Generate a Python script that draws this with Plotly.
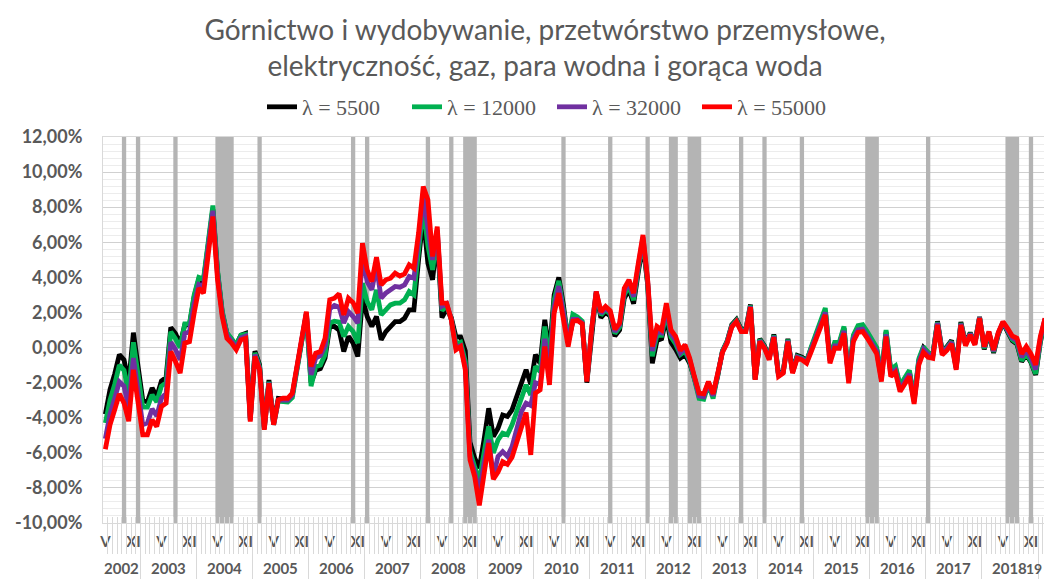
import plotly.graph_objects as go

# ---------------- data ----------------
start_year, start_month = 2002, 5   # first month: May 2002

lam_55000 = [
    -5.8, -4.4, -3.55, -2.64, -3.17, -4.2, -1.27, -2.98,
    -4.97, -4.97, -4.12, -4.5, -3.36, -3.17, -0.23, -0.8, -1.46, 0.25, 0.34, 1.96,
    3.38, 3.1, 5.2, 7.47, 3.86, 1.77, 0.53, 0.25, -0.13, 0.44, 0.53, -4.22,
    -0.51, -1.27, -4.69, -2.03, -4.4, -2.98, -2.89, -2.89, -2.6, -1.08, 0.82, 2.05,
    -1.08, -0.32, -0.23, 0.53, 2.72, 2.81, 3.06, 1.86, 2.81, 2.56, 1.96, 5.95,
    4.43, 3.76, 5.15, 3.57, 3.86, 3.95, 4.24, 4.08, 4.2, 4.71, 4.52, 6.52,
    9.18, 8.42, 5.19, 6.89, 2.53, 2.53, 1.58, -0.13, 0.06, -1.27, -6.4, -7.35,
    -9.0, -6.97, -5.45, -7.5, -7.1, -6.5, -6.65, -6.25, -5.45, -4.5, -3.7, -6.12,
    -2.6, -2.41, 0.06, -2.13, 1.96, 3.1, 1.58, 0.06, 1.5, 1.54, 1.35, -1.94,
    1.0, 3.19, 2.05, 2.34, 2.09, 1.04, 1.39, 3.38, 3.86, 3.1, 4.8, 6.42,
    3.86, 0.06, 1.2, 1.0, 2.53, 1.0, 0.63, -0.17, 0.15, -0.61, -1.65, -2.6,
    -2.64, -1.94, -2.64, -1.56, -0.28, 0.25, 1.16, 1.48, 0.91, 0.91, 2.3, -1.84,
    0.34, -0.04, -0.7, 0.59, -1.65, -1.46, 0.34, -1.46, -0.61, -0.7, -0.89, -0.23,
    0.48, 1.2, 1.86, -0.89, -0.04, -0.04, 0.82, -2.03, 0.34, 0.86, 0.91, 0.53,
    0.1, -0.36, -1.94, 0.63, -1.65, -1.42, -2.51, -2.07, -1.65, -3.21, -0.99, -0.28,
    -0.55, -0.61, 1.29, -0.42, -0.17, 0.21, -1.27, 1.29, 0.1, 0.72, 0.15, 1.67,
    0.06, 0.91, -0.13, 0.86, 1.48, 1.1, 0.66, 0.53, -0.36, 0.06, -0.36, -0.99,
    0.63, 1.67,
]

lam_5500 = [
    -3.8, -2.4, -1.5, -0.4, -0.7, -2.0, 0.85, -0.9,
    -3.0, -3.1, -2.3, -2.8, -1.9, -1.7, 1.15, 0.8, 0.2, 1.3, 1.3, 2.9,
    3.9, 3.8, 5.7, 7.9, 4.3, 2.0, 0.8, 0.45, 0.15, 0.7, 0.8, -4.0,
    -0.2, -1.0, -4.5, -1.85, -4.3, -2.9, -2.95, -2.95, -2.7, -1.2, 0.65, 1.9,
    -2.0, -1.3, -1.2, -0.6, 1.2, 1.2, 1.0, -0.23, 0.63, 0.25, -0.51, 2.81,
    1.77, 1.2, 1.77, 0.44, 0.91, 1.2, 1.48, 1.48, 1.67, 2.15, 2.15, 5.0,
    7.47, 4.8, 3.86, 6.3, 1.7, 2.2, 1.7, 0.6, 0.6, -0.2, -5.4, -6.3,
    -6.87, -5.26, -3.46, -5.07, -4.6, -3.84, -3.93, -3.55, -2.79, -2.03, -1.27, -2.1,
    -0.4, -0.9, 1.58, -0.3, 3.0, 4.0, 2.4, 0.3, 1.5, 1.6, 1.4, -2.0,
    0.9, 3.1, 1.7, 2.0, 1.8, 0.65, 1.0, 2.8, 3.3, 2.5, 4.3, 5.9,
    3.6, -0.9, 0.4, 0.5, 1.7, 0.3, -0.1, -0.6, -0.4, -0.9, -1.75, -2.7,
    -2.75, -2.0, -2.7, -1.6, -0.2, 0.35, 1.3, 1.6, 1.05, 1.05, 2.45, -1.8,
    0.5, 0.1, -0.55, 0.75, -1.55, -1.35, 0.5, -1.35, -0.45, -0.55, -0.75, -0.05,
    0.7, 1.45, 2.1, -0.65, 0.2, 0.2, 1.1, -1.8, 0.6, 1.15, 1.2, 0.8,
    0.35, -0.1, -1.7, 0.9, -1.35, -1.15, -2.25, -1.8, -1.4, -3.0, -0.75, 0.0,
    -0.3, -0.4, 1.5, -0.2, 0.05, 0.4, -1.1, 1.45, 0.25, 0.85, 0.25, 1.75,
    -0.1, 0.8, -0.3, 0.75, 1.4, 0.9, 0.4, 0.2, -0.8, -0.4, -0.85, -1.56,
    0.3, 1.55,
]

lam_12000 = [
    -4.3, -3.0, -2.1, -1.0, -1.3, -2.6, 0.3, -1.5,
    -3.4, -3.4, -2.7, -3.1, -2.2, -2.0, 0.9, 0.5, 0.0, 1.35, 1.35, 3.0,
    4.0, 3.9, 5.8, 8.1, 4.4, 2.1, 0.85, 0.5, 0.15, 0.7, 0.75, -4.1,
    -0.3, -1.1, -4.6, -1.95, -4.4, -3.05, -3.1, -3.1, -2.85, -1.3, 0.6, 1.9,
    -2.2, -1.1, -1.0, -0.4, 1.4, 1.5, 1.45, 0.63, 1.2, 0.91, 0.25, 3.67,
    2.62, 2.15, 3.29, 1.86, 2.15, 2.43, 2.53, 2.53, 2.72, 3.19, 3.0, 5.57,
    8.03, 5.8, 4.43, 6.5, 2.1, 2.4, 1.6, 0.2, 0.3, -0.8, -5.9, -6.8,
    -7.6, -6.0, -4.5, -6.0, -5.26, -4.88, -4.97, -4.4, -3.65, -2.89, -2.13, -2.7,
    -1.08, -1.37, 1.2, -0.8, 2.7, 3.8, 2.3, 0.5, 1.9, 1.75, 1.5, -1.9,
    0.95, 3.15, 1.85, 2.15, 1.9, 0.8, 1.15, 3.0, 3.5, 2.7, 4.5, 6.1,
    3.7, -0.5, 0.7, 0.7, 2.0, 0.6, 0.2, -0.4, -0.2, -0.8, -1.8, -2.9,
    -2.95, -2.1, -2.9, -1.7, -0.2, 0.35, 1.25, 1.55, 1.0, 1.0, 2.4, -1.8,
    0.45, 0.05, -0.6, 0.7, -1.6, -1.4, 0.45, -1.4, -0.5, -0.6, -0.8, 0.05,
    0.8, 1.6, 2.25, -0.55, 0.3, 0.3, 1.2, -1.7, 0.7, 1.25, 1.3, 0.9,
    0.45, 0.0, -1.6, 1.0, -1.25, -1.05, -2.15, -1.7, -1.3, -2.9, -0.65, 0.05,
    -0.3, -0.4, 1.45, -0.25, 0.0, 0.35, -1.15, 1.4, 0.2, 0.8, 0.25, 1.72,
    -0.05, 0.85, -0.25, 0.8, 1.42, 0.95, 0.45, 0.25, -0.75, -0.35, -0.8, -1.5,
    0.35, 1.6,
]

lam_32000 = [
    -5.2, -3.8, -2.9, -1.95, -2.2, -3.4, -0.6, -2.3,
    -4.4, -4.3, -3.5, -3.9, -2.9, -2.6, 0.3, -0.1, -0.7, 0.8, 0.9, 2.5,
    3.6, 3.5, 5.5, 7.8, 4.1, 1.9, 0.7, 0.35, 0.0, 0.55, 0.65, -4.15,
    -0.4, -1.2, -4.65, -2.0, -4.4, -3.0, -3.0, -3.0, -2.7, -1.15, 0.75, 2.0,
    -1.56, -0.6, -0.45, 0.1, 2.2, 2.4, 2.3, 1.39, 2.05, 1.77, 1.39, 5.19,
    3.76, 3.29, 4.62, 2.81, 3.1, 3.29, 3.48, 3.44, 3.57, 4.05, 3.95, 6.13,
    8.6, 6.8, 5.0, 6.7, 2.35, 2.5, 1.6, 0.0, 0.1, -1.1, -6.2, -7.1,
    -8.3, -6.6, -5.26, -7.35, -6.2, -5.93, -6.2, -5.64, -4.69, -3.65, -3.17, -3.3,
    -2.0, -2.1, 0.5, -1.5, 2.3, 3.5, 2.0, 0.3, 1.6, 1.6, 1.4, -1.9,
    1.0, 3.2, 1.95, 2.25, 2.0, 0.9, 1.3, 3.2, 3.7, 2.9, 4.65, 6.3,
    3.8, -0.2, 0.95, 0.85, 2.3, 0.8, 0.4, -0.3, 0.0, -0.7, -1.7, -2.75,
    -2.8, -2.0, -2.75, -1.6, -0.25, 0.3, 1.2, 1.5, 0.95, 0.95, 2.35, -1.82,
    0.4, 0.0, -0.65, 0.65, -1.62, -1.42, 0.4, -1.42, -0.55, -0.65, -0.85, -0.1,
    0.6, 1.35, 2.0, -0.75, 0.1, 0.1, 0.95, -1.9, 0.5, 1.0, 1.05, 0.65,
    0.25, -0.2, -1.8, 0.75, -1.5, -1.3, -2.4, -1.95, -1.5, -3.1, -0.85, -0.1,
    -0.4, -0.5, 1.4, -0.3, -0.05, 0.3, -1.2, 1.35, 0.15, 0.78, 0.2, 1.7,
    0.03, 0.88, -0.2, 0.83, 1.45, 1.0, 0.55, 0.4, -0.55, -0.15, -0.6, -1.25,
    0.5, 1.65,
]

series_names = ["λ = 5500", "λ = 12000", "λ = 32000", "λ = 55000"]
series_values = [lam_5500, lam_12000, lam_32000, lam_55000]
series_colors = ["#000000", "#00B050", "#7030A0", "#FF0000"]

# shaded periods (first month, last month)
band_periods = [
    ("2002-09", "2002-09"), ("2002-12", "2002-12"), ("2003-08", "2003-08"),
    ("2004-05", "2004-08"), ("2005-02", "2005-02"), ("2006-10", "2006-10"),
    ("2007-01", "2007-01"), ("2008-02", "2008-02"), ("2008-07", "2008-07"),
    ("2008-10", "2008-12"), ("2010-07", "2010-07"), ("2011-05", "2011-05"),
    ("2012-01", "2012-01"), ("2012-06", "2012-07"), ("2012-10", "2012-12"),
    ("2013-09", "2013-09"), ("2014-02", "2014-02"), ("2014-10", "2014-10"),
    ("2015-12", "2016-02"), ("2017-01", "2017-01"), ("2018-06", "2018-08"),
    ("2018-11", "2018-11"),
]

month_labels = {5: "V", 11: "XI"}
y_min, y_max, y_step, y_minor = -10, 12, 2, 0.4

title_text = ("Górnictwo i wydobywanie, przetwórstwo przemysłowe,<br>"
              "elektryczność, gaz, para wodna i gorąca woda")

# ---------------- derived helpers ----------------
n = len(lam_55000)
assert all(len(s) == n for s in series_values), [len(s) for s in series_values]
months = [(start_year + (start_month - 1 + k) // 12, (start_month - 1 + k) % 12 + 1) for k in range(n)]
idx = list(range(n))


def month_index(s):
    yy, mm = map(int, s.split("-"))
    return (yy - start_year) * 12 + (mm - start_month)


GRAY_TXT = "#595959"
LINE_GRAY = "#D9D9D9"
x_range = [-0.5, -0.5 + 941 / 4.675]

fig = go.Figure()

# shaded bands as bars spanning the full value axis
b_x, b_w = [], []
for a, b in band_periods:
    ia, ib = month_index(a), month_index(b)
    b_x.append((ia + ib) / 2)
    b_w.append(ib - ia + 1 - 0.08)
fig.add_trace(go.Bar(
    x=b_x, y=[y_max - y_min] * len(b_x), base=y_min, width=b_w,
    marker=dict(color="#B4B4B4", line=dict(width=0)),
    showlegend=False, hoverinfo="skip",
))

for name, vals, col in zip(series_names, series_values, series_colors):
    fig.add_trace(go.Scatter(
        x=idx, y=vals, mode="lines", name=name,
        line=dict(color=col, width=4.8), hoverinfo="skip",
    ))

# helper (empty) traces so extra tick axes get drawn
for ax in ["x2", "x3", "x4"]:
    fig.add_trace(go.Scatter(x=[None], y=[None], xaxis=ax, yaxis="y",
                             showlegend=False, hoverinfo="skip"))

# x tick labels (V / XI)
lab_vals = [i for i, (yy, mm) in enumerate(months) if mm in month_labels]
lab_text = [month_labels[months[i][1]] for i in lab_vals]

month_bounds = [i - 0.5 for i in range(1, n)]
year_bounds = [i - 0.5 for i, (yy, mm) in enumerate(months) if mm == 1]

# y ticks
y_ticks = list(range(y_min, y_max + 1, y_step))
y_text = [f"{v:.2f}".replace(".", ",") + "%" for v in y_ticks]

tick_axis = dict(range=x_range, overlaying="x", anchor="y", side="bottom",
                 tickmode="array", tickcolor=LINE_GRAY, tickwidth=1,
                 showticklabels=False, showgrid=False, zeroline=False,
                 showline=False, automargin=False)

fig.update_layout(
    width=1044, height=579,
    margin=dict(l=103, r=0, t=137, b=56, autoexpand=False),
    paper_bgcolor="white", plot_bgcolor="white",
    barmode="overlay",
    showlegend=True,
    title=dict(text=title_text, x=545 / 1044, xref="container", xanchor="center",
               y=1 - 40 / 579, yref="container", yanchor="middle",
               font=dict(family="Lato", size=28, color=GRAY_TXT)),
    legend=dict(orientation="h", x=552 / 1044, xref="container", xanchor="center",
                y=1 - 107 / 579, yref="container", yanchor="middle",
                font=dict(family="Liberation Serif, Times New Roman, serif", size=22,
                          color=GRAY_TXT),
                bgcolor="rgba(0,0,0,0)", itemwidth=30,
                entrywidth=100, entrywidthmode="pixels"),
    xaxis=dict(range=x_range, tickmode="array", tickvals=lab_vals, ticktext=lab_text,
               ticks="", ticklabelstandoff=5, showgrid=False, zeroline=False,
               showline=True, linecolor=LINE_GRAY, linewidth=1, mirror=True,
               automargin=False,
               tickfont=dict(family="Lato", size=15, color=GRAY_TXT, weight="bold")),
    xaxis2=dict(tick_axis, tickvals=month_bounds, ticks="outside", ticklen=30),
    xaxis3=dict(tick_axis, tickvals=year_bounds, ticks="outside", ticklen=56),
    xaxis4=dict(tick_axis, tickvals=month_bounds, ticks="inside", ticklen=6),
    yaxis=dict(range=[y_min, y_max], tickmode="array", tickvals=y_ticks, ticktext=y_text,
               ticks="", ticklabelstandoff=16, showgrid=True, gridcolor="#D0D0D0",
               gridwidth=1, zeroline=False, showline=True, linecolor=LINE_GRAY,
               automargin=False,
               minor=dict(tick0=0, dtick=y_minor, showgrid=True, gridcolor="#ECECEC",
                          gridwidth=1),
               tickfont=dict(family="Lato", size=18, color=GRAY_TXT, weight="bold")),
)

# year labels under the month labels
years = sorted(set(yy for yy, mm in months))
for yr in years:
    ii = [i for i, (yy, mm) in enumerate(months) if yy == yr]
    if len(ii) >= 3:
        fig.add_annotation(x=(ii[0] + ii[-1]) / 2, xref="x", y=-45 / 386, yref="paper",
                           text=str(yr), showarrow=False, xanchor="center", yanchor="middle",
                           font=dict(family="Lato", size=15, color=GRAY_TXT, weight="bold"))
    else:
        # partial last year, only its short form fits at the right edge
        fig.add_annotation(x=x_range[1], xref="x", y=-45 / 386, yref="paper",
                           text=str(yr)[2:], showarrow=False, xanchor="right", yanchor="middle",
                           xshift=0,
                           font=dict(family="Lato", size=14, color=GRAY_TXT, weight="bold"))

fig.write_html(
    "out.html",
    config={"displayModeBar": False},
    post_script="document.body.style.margin='0px';document.body.style.padding='0px';"
                "document.body.style.overflow='hidden';",
)
